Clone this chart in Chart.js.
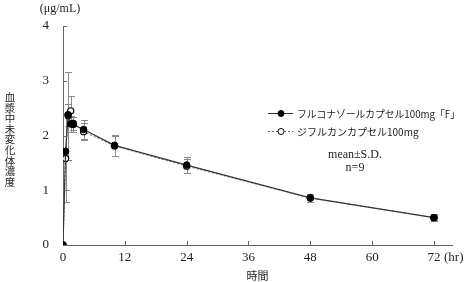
<!DOCTYPE html>
<html><head><meta charset="utf-8">
<script src="https://cdn.jsdelivr.net/npm/chart.js@4"></script>
<style>html,body{margin:0;padding:0;background:#fff}#wrap{width:464px;height:282px}</style>
</head><body><div id="wrap"><canvas id="c" width="464" height="282"></canvas></div>
<script>
const timesHr = [0, 0.5, 1, 1.5, 2, 4, 10, 24, 48, 72];
const seriesFNames = ['フルコナゾールカプセル100mg「F」', 'ジフルカンカプセル100mg'];
const fluconazoleF = [0, 1.71, 2.38, 2.21, 2.20, 2.11, 1.82, 1.46, 0.86, 0.50];
const fluconazoleF_SD = [0, 0.71, 0.20, 0.15, 0.14, 0.17, 0.19, 0.15, 0.08, 0.06];
const diflucan = [0, 1.58, 2.36, 2.45, 2.22, 2.07, 1.81, 1.44, 0.86, 0.50];
const diflucan_SD = [0, 0.80, 0.80, 0.27, 0.12, 0.16, 0.18, 0.13, 0.07, 0.05];
const xTicks = [0, 12, 24, 36, 48, 60, 72];
const yTicks = [0, 1, 2, 3, 4];
const yUnit = '(μg/mL)';
const xUnit = '(hr)';
const xTitle = '時間';
const yTitle = '血漿中未変化体濃度';
const noteLines = ['mean±S.D.', 'n=9'];

const serif = '"Liberation Serif", "Noto Sans CJK JP", serif';
const cjk = '"Noto Sans CJK JP", "Liberation Serif", sans-serif';

const errBars = {
  id: 'errBars',
  beforeDatasetsDraw(chart) {
    const ctx = chart.ctx, xs = chart.scales.x, ys = chart.scales.y;
    const sets = [fluconazoleF_SD, diflucan_SD];
    ctx.save();
    ctx.strokeStyle = '#8a8a8a'; ctx.lineWidth = 1;
    chart.data.datasets.forEach((ds, di) => {
      ds.data.forEach((p, i) => {
        const sd = sets[di][i]; if (!sd) return;
        const x = Math.round(xs.getPixelForValue(p.x)) + 0.5;
        const yt = ys.getPixelForValue(p.y + sd), yb = ys.getPixelForValue(p.y - sd);
        ctx.beginPath();
        ctx.moveTo(x, yt); ctx.lineTo(x, yb);
        ctx.moveTo(x - 3.5, Math.round(yt) + 0.5); ctx.lineTo(x + 3.5, Math.round(yt) + 0.5);
        ctx.moveTo(x - 3.5, Math.round(yb) + 0.5); ctx.lineTo(x + 3.5, Math.round(yb) + 0.5);
        ctx.stroke();
      });
    });
    ctx.restore();
  }
};

const deco = {
  id: 'deco',
  afterDraw(chart) {
    const ctx = chart.ctx, xs = chart.scales.x, ys = chart.scales.y;
    const ca = chart.chartArea;
    ctx.save();
    ctx.strokeStyle = '#666'; ctx.lineWidth = 1;
    ctx.beginPath();
    xTicks.forEach(t => { if (t === 0) return; const x = Math.round(xs.getPixelForValue(t)) + 0.5; ctx.moveTo(x, ca.bottom); ctx.lineTo(x, ca.bottom - 4); });
    yTicks.forEach(t => { if (t === 0) return; const y = Math.round(ys.getPixelForValue(t)) + 0.5; ctx.moveTo(ca.left, y); ctx.lineTo(ca.left + 4, y); });
    ctx.stroke();
    ctx.fillStyle = '#222';
    ctx.font = '12px ' + serif;
    ctx.textAlign = 'center'; ctx.textBaseline = 'middle';
    ctx.fillText(yUnit, 60, 9);
    ctx.textAlign = 'left';
    ctx.font = '13px ' + serif;
    ctx.fillText(xUnit, 444, 258);
    ctx.font = '10.5px ' + cjk;
    ctx.textAlign = 'center';
    const chars = Array.from(yTitle);
    const y0 = 97, step = 10.6;
    chars.forEach((ch, i) => ctx.fillText(ch, 10, y0 + i * step));
    const rows = [{y: 113, dash: [], fill: '#000'}, {y: 131, dash: [2, 2], fill: '#fff'}];
    rows.forEach((r, i) => {
      ctx.strokeStyle = i === 0 ? '#333' : '#666';
      ctx.setLineDash(r.dash);
      ctx.beginPath(); ctx.moveTo(268, r.y + 0.5); ctx.lineTo(293, r.y + 0.5); ctx.stroke();
      ctx.setLineDash([]);
      ctx.beginPath(); ctx.arc(281, r.y + 0.5, 3, 0, Math.PI * 2);
      ctx.fillStyle = r.fill; ctx.fill(); ctx.strokeStyle = '#000'; ctx.stroke();
      ctx.fillStyle = '#222';
      ctx.textAlign = 'left';
      ctx.font = '10px ' + cjk;
      ctx.fillText(seriesFNames[i], 297, r.y + 1, 163);
    });
    ctx.font = '12px ' + serif;
    ctx.textAlign = 'center';
    ctx.fillText(noteLines[0], 355, 155);
    ctx.fillText(noteLines[1], 355, 168);
    ctx.restore();
  }
};

new Chart(document.getElementById('c'), {
  type: 'line',
  data: {
    datasets: [
      { label: seriesFNames[0], data: timesHr.map((t, i) => ({x: t, y: fluconazoleF[i]})),
        borderColor: '#333', borderWidth: 1.2, pointRadius: 3.3, pointBackgroundColor: '#000',
        pointBorderColor: '#000', pointBorderWidth: 1, tension: 0, order: 0 },
      { label: seriesFNames[1], data: timesHr.map((t, i) => ({x: t, y: diflucan[i]})),
        borderColor: '#777', borderWidth: 1, borderDash: [2, 2], pointRadius: 3.1,
        pointBackgroundColor: '#fff', pointBorderColor: '#000', pointBorderWidth: 1.2, tension: 0, order: 1 }
    ]
  },
  options: {
    responsive: false, animation: false, devicePixelRatio: 1,
    layout: { padding: { top: 26, right: 12, left: 0, bottom: 0 } },
    plugins: { legend: { display: false }, tooltip: { enabled: false } },
    scales: {
      x: { type: 'linear', min: 0, max: 75.5,
        afterBuildTicks: s => { s.ticks = xTicks.map(v => ({value: v})); },
        afterFit: s => { s.height = 37; },
        grid: { display: false, tickLength: 0 }, border: { display: true, color: '#666', width: 1 },
        ticks: { color: '#222', font: { family: serif, size: 13 }, padding: 5, maxRotation: 0 },
        title: { display: true, text: xTitle, color: '#222', font: { family: cjk, size: 11 }, padding: { top: 1, bottom: 0 } } },
      y: { type: 'linear', min: 0, max: 4,
        afterBuildTicks: s => { s.ticks = yTicks.map(v => ({value: v})); },
        afterFit: s => { s.width = 63; },
        grid: { display: false }, border: { display: true, color: '#666', width: 1 },
        ticks: { color: '#222', font: { family: serif, size: 13 }, padding: 6 } }
    }
  },
  plugins: [errBars, deco]
});
</script></body></html>
